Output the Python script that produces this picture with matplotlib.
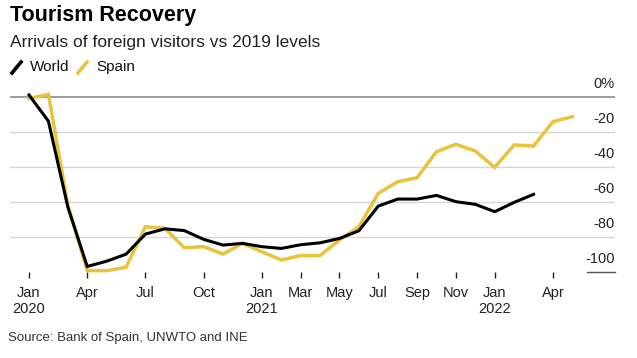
import numpy as np
from matplotlib import pyplot as plt
from matplotlib.lines import Line2D

plt.rcParams['font.family'] = ['Liberation Sans', 'DejaVu Sans']

# monthly, Jan 2020 onwards (% vs 2019)
world = [1, -14, -63, -97, -94, -90, -78.5, -75.5, -76.5, -81.5, -84.8, -83.8,
         -85.7, -86.7, -84.6, -83.5, -81, -76.6, -62.5, -58.5, -58.5, -56.4,
         -60, -61.5, -65.7, -60.4, -55.8]
spain = [-1, 1.4, -62, -99.4, -99.4, -97.5, -74.3, -75.2, -86.3, -85.7, -89.9,
         -83.8, -88.6, -93.3, -90.8, -90.8, -81.9, -74.3, -55.2, -48.6, -46.3,
         -31.4, -27.2, -31, -40.4, -27.6, -28.2, -14.3, -11.4]

tick_pos = [0, 3, 6, 9, 12, 14, 16, 18, 20, 22, 24, 27]
tick_labels = ["Jan\n2020", "Apr", "Jul", "Oct", "Jan\n2021", "Mar", "May",
               "Jul", "Sep", "Nov", "Jan\n2022", "Apr"]
y_ticks = [0, -20, -40, -60, -80, -100]

black = "#000000"
yellow = "#E8C33B"

fig = plt.figure(figsize=(6.37, 3.58), dpi=100)
ax = fig.add_axes([10/637, 1 - 271.7/358, 605/637, (271.7 - 75)/358])

xmin, xmax = -0.98, 30.2
ax.set_xlim(xmin, xmax)
ax.set_ylim(-100, 12.4)

# gridlines
for v in y_ticks[1:-1]:
    ax.axhline(v, color="#d6d6d6", lw=1, zorder=0)
ax.axhline(0, color="#8c8c8c", lw=1.2, zorder=1)
ax.plot([28.76, xmax], [-100, -100], color="#555555", lw=1,
        clip_on=False, zorder=1)

for v in y_ticks:
    lab = "0%" if v == 0 else str(v)
    ax.annotate(lab, xy=(xmax, v), xytext=(0, 4), textcoords="offset points",
                ha="right", va="bottom", fontsize=10.5, color="#222222")

ax.plot(np.arange(len(spain)), spain, color=yellow, lw=2.5, zorder=3,
        clip_on=False, solid_joinstyle="miter")
ax.plot(np.arange(len(world)), world, color=black, lw=2.2, zorder=4,
        clip_on=False, solid_joinstyle="miter")

ax.set_xticks(tick_pos)
ax.set_xticklabels(tick_labels, fontsize=10.5, color="#222222")
ax.tick_params(axis="x", length=4, width=1, color="#222222", pad=6.5)
ax.set_yticks([])
for s in ax.spines.values():
    s.set_visible(False)

# titles
fig.text(10/637, 1 - 16/358, "Tourism Recovery", fontsize=15.5,
         fontweight="bold", va="center", ha="left")
fig.text(10/637, 1 - 42/358, "Arrivals of foreign visitors vs 2019 levels",
         fontsize=12.5, va="center", ha="left", color="#222222")

# legend
for x0, col, name in [(12, black, "World"), (78, yellow, "Spain")]:
    fig.add_artist(Line2D([x0/637, (x0 + 9)/637], [1 - 73/358, 1 - 62/358],
                          color=col, lw=2.6))
    fig.text((x0 + 18)/637, 1 - 67/358, name, fontsize=11, va="center",
             ha="left", color="#111111")

fig.text(8/637, 1 - 338/358, "Source: Bank of Spain, UNWTO and INE",
         fontsize=9.5, va="center", ha="left", color="#333333")

fig.savefig("out.png", dpi=100)
